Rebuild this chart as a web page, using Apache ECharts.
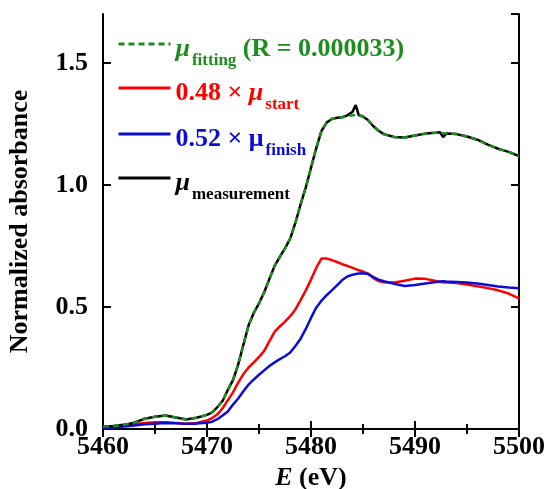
<!DOCTYPE html>
<html>
<head>
<meta charset="utf-8">
<script src="https://cdn.jsdelivr.net/npm/echarts@6/dist/echarts.min.js"></script>
<style>
    html, body { margin: 0; padding: 0; background: #fff; }
    #chart { width: 547px; height: 489px; }
</style>
</head>
<body>
<div id="chart"></div>
<script>
    // energy grid (eV)
    var energy = [5460, 5461, 5462, 5463, 5464, 5465, 5466, 5467, 5468, 5469, 5470,
        5470.5, 5471, 5471.5, 5472, 5472.5, 5473, 5473.5, 5474, 5474.5, 5475,
        5475.5, 5476, 5476.5, 5477, 5477.5, 5478, 5478.5, 5479, 5479.5, 5480,
        5480.5, 5481, 5481.5, 5482, 5482.5, 5483, 5483.5, 5484, 5484.3, 5484.6,
        5485, 5485.5, 5486, 5486.5, 5487, 5488, 5489, 5490, 5491, 5492,
        5492.4, 5492.7, 5493, 5494, 5495, 5496, 5497, 5498, 5499, 5500];

    var muMeasurement = [0.010, 0.012, 0.017, 0.026, 0.042, 0.050, 0.055, 0.047, 0.039, 0.046, 0.058,
        0.068, 0.090, 0.115, 0.160, 0.200, 0.265, 0.345, 0.425, 0.476, 0.515,
        0.560, 0.615, 0.668, 0.705, 0.740, 0.780, 0.845, 0.920, 0.990, 1.070,
        1.150, 1.220, 1.255, 1.270, 1.275, 1.277, 1.285, 1.300, 1.327, 1.285,
        1.280, 1.265, 1.240, 1.222, 1.208, 1.196, 1.194, 1.202, 1.210, 1.214,
        1.216, 1.196, 1.210, 1.208, 1.198, 1.185, 1.165, 1.148, 1.135, 1.118];

    var muFitting = [0.010, 0.012, 0.017, 0.026, 0.042, 0.050, 0.055, 0.047, 0.039, 0.046, 0.058,
        0.068, 0.090, 0.115, 0.160, 0.200, 0.265, 0.345, 0.425, 0.476, 0.515,
        0.560, 0.615, 0.668, 0.705, 0.740, 0.780, 0.845, 0.920, 0.990, 1.070,
        1.150, 1.220, 1.255, 1.270, 1.275, 1.277, 1.282, 1.285, 1.287, 1.285,
        1.280, 1.265, 1.240, 1.222, 1.208, 1.196, 1.194, 1.202, 1.210, 1.214,
        1.214, 1.212, 1.210, 1.208, 1.198, 1.185, 1.165, 1.148, 1.135, 1.118];

    var muStart = [0.006, 0.008, 0.012, 0.018, 0.025, 0.028, 0.028, 0.025, 0.022, 0.025, 0.035,
        0.045, 0.060, 0.085, 0.118, 0.150, 0.190, 0.225, 0.252, 0.273, 0.295,
        0.320, 0.360, 0.398, 0.420, 0.440, 0.462, 0.490, 0.528, 0.568, 0.612,
        0.660, 0.698, 0.698, 0.692, 0.684, 0.675, 0.668, 0.660, 0.655, 0.650,
        0.645, 0.636, 0.618, 0.606, 0.601, 0.600, 0.607, 0.616, 0.615, 0.606,
        0.602, 0.601, 0.600, 0.598, 0.592, 0.585, 0.577, 0.568, 0.555, 0.535];

    var muFinish = [0.004, 0.006, 0.010, 0.014, 0.019, 0.022, 0.025, 0.024, 0.021, 0.022, 0.026,
        0.030, 0.040, 0.055, 0.072, 0.100, 0.125, 0.155, 0.182, 0.203, 0.222,
        0.240, 0.258, 0.273, 0.286, 0.298, 0.313, 0.340, 0.370, 0.410, 0.455,
        0.497, 0.525, 0.548, 0.568, 0.588, 0.610, 0.625, 0.632, 0.635, 0.637,
        0.638, 0.635, 0.622, 0.612, 0.605, 0.595, 0.586, 0.590, 0.596, 0.602,
        0.604, 0.605, 0.604, 0.602, 0.600, 0.596, 0.590, 0.584, 0.580, 0.577];

    var FONT = "'Liberation Serif', 'Times New Roman', serif";
    var GREEN = '#1e8c1e', RED = '#ff0000', BLUE = '#0c0cd6', BLACK = '#000000';

    function pairs(ys) {
        var out = [];
        for (var i = 0; i < energy.length; i++) out.push([energy[i], ys[i]]);
        return out;
    }

    function legendRich(color) {
        return {
            m: { fontFamily: FONT, fontSize: 26, fontWeight: 'bold', color: color, padding: [10, 0, 0, 0] },
            mu: { fontFamily: FONT, fontSize: 26, fontWeight: 'bold', fontStyle: 'italic', color: color, padding: [10, 0, 0, 0] },
            s: { fontFamily: FONT, fontSize: 17, fontWeight: 'bold', color: color, padding: [34, 0, 0, 2] }
        };
    }

    function oneLegend(name, top, color, text) {
        return {
            data: [name],
            left: 117,
            top: top,
            padding: 0,
            itemWidth: 52,
            itemHeight: 14,
            itemGap: 0,
            selectedMode: false,
            lineStyle: { width: 3 },
            itemStyle: { opacity: 0 },
            formatter: function () { return text; },
            textStyle: { rich: legendRich(color) }
        };
    }

    var axisCommon = {
        axisLine: { lineStyle: { color: BLACK, width: 2 } },
        axisTick: { inside: true, length: 8, lineStyle: { color: BLACK, width: 2 } },
        splitLine: { show: false }
    };

    var chart = echarts.init(document.getElementById('chart'));
    chart.setOption({
        animation: false,
        backgroundColor: '#fff',
        grid: { left: 103, right: 28, top: 14, bottom: 60, containLabel: false, outerBoundsMode: 'none' },
        legend: [
            oneLegend('fitting', 36, GREEN, '{mu|μ}{s|fitting}{m| (R = 0.000033)}'),
            oneLegend('start', 80, RED, '{m|0.48 × }{mu|μ}{s|start}'),
            oneLegend('finish', 126, BLUE, '{m|0.52 × μ}{s|finish}'),
            oneLegend('measurement', 170, BLACK, '{mu|μ}{s|measurement}')
        ],
        xAxis: [
            echarts.util.merge({
                type: 'value', position: 'bottom', min: 5460, max: 5500, interval: 10,
                minorTick: { show: true, splitNumber: 2, length: 5, lineStyle: { color: BLACK, width: 2 } },
                axisLabel: { fontFamily: FONT, fontSize: 26, fontWeight: 'bold', color: BLACK, margin: 5,
                    formatter: function (v) { return String(v); } },
                name: '{i|E} (eV)', nameLocation: 'middle', nameGap: 29,
                nameTextStyle: { fontFamily: FONT, fontSize: 26, fontWeight: 'bold', color: BLACK,
                    rich: { i: { fontFamily: FONT, fontSize: 26, fontWeight: 'bold', fontStyle: 'italic', color: BLACK } } }
            }, axisCommon, true),
            echarts.util.merge({
                type: 'value', position: 'top', min: 5460, max: 5500, interval: 10,
                minorTick: { show: true, splitNumber: 2, length: 5, lineStyle: { color: BLACK, width: 2 } },
                axisLabel: { show: false }
            }, axisCommon, true)
        ],
        yAxis: [
            echarts.util.merge({
                type: 'value', position: 'left', min: 0, max: 1.7, interval: 0.5,
                axisLabel: { fontFamily: FONT, fontSize: 26, fontWeight: 'bold', color: BLACK, margin: 15,
                    showMaxLabel: false, formatter: function (v) { return v.toFixed(1); } },
                name: 'Normalized absorbance', nameLocation: 'middle', nameGap: 70,
                nameTextStyle: { fontFamily: FONT, fontSize: 26, fontWeight: 'bold', color: BLACK }
            }, axisCommon, true),
            echarts.util.merge({
                type: 'value', position: 'right', min: 0, max: 1.7, interval: 0.5,
                axisLabel: { show: false }
            }, axisCommon, true)
        ],
        series: [
            { name: 'measurement', type: 'line', data: pairs(muMeasurement), showSymbol: false, symbol: 'none',
              lineStyle: { color: BLACK, width: 2.5 }, itemStyle: { color: BLACK }, z: 3 },
            { name: 'start', type: 'line', data: pairs(muStart), showSymbol: false, symbol: 'none',
              lineStyle: { color: RED, width: 2.5 }, itemStyle: { color: RED }, z: 2 },
            { name: 'finish', type: 'line', data: pairs(muFinish), showSymbol: false, symbol: 'none',
              lineStyle: { color: BLUE, width: 2.5 }, itemStyle: { color: BLUE }, z: 2 },
            { name: 'fitting', type: 'line', data: pairs(muFitting), showSymbol: false, symbol: 'none',
              lineStyle: { color: GREEN, width: 2.5, type: [6, 4] }, itemStyle: { color: GREEN }, z: 4 }
        ]
    });
</script>
</body>
</html>
